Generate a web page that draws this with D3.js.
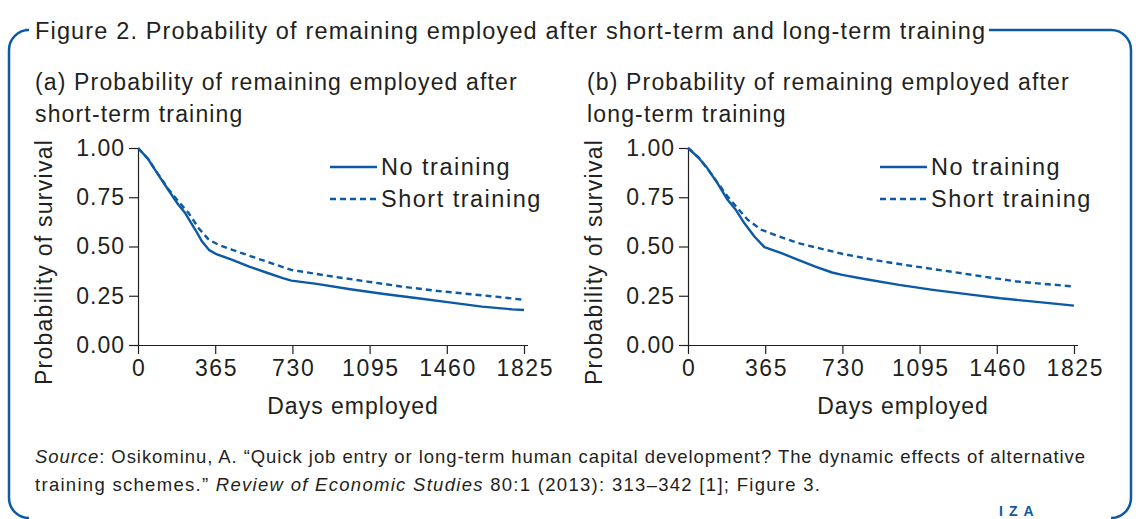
<!DOCTYPE html>
<html>
<head>
<meta charset="utf-8">
<script src="https://cdn.jsdelivr.net/npm/d3@7"></script>
<style>
  html, body { margin: 0; padding: 0; background: #ffffff; }
  svg { display: block; }
  text { font-family: "Liberation Sans", Arial, sans-serif; fill: #231f20; }
</style>
</head>
<body>
<svg id="fig" width="1138" height="519"></svg>
<script>
// Survival curves: [days employed, probability of remaining employed]
const shortNoTraining = [
  [0, 1.00], [48, 0.944], [96, 0.864], [143, 0.788], [191, 0.712], [223, 0.670],
  [271, 0.585], [303, 0.525], [335, 0.483], [367, 0.463], [446, 0.432], [526, 0.398],
  [606, 0.368], [685, 0.339], [725, 0.327], [845, 0.310], [1004, 0.283], [1164, 0.259],
  [1323, 0.237], [1482, 0.215], [1626, 0.195], [1769, 0.181], [1825, 0.178]
];
const shortTraining = [
  [0, 1.00], [48, 0.944], [96, 0.866], [143, 0.792], [191, 0.729], [239, 0.670],
  [287, 0.593], [335, 0.534], [383, 0.508], [446, 0.483], [606, 0.424], [725, 0.381],
  [924, 0.347], [1084, 0.322], [1244, 0.297], [1403, 0.276], [1562, 0.259],
  [1722, 0.242], [1825, 0.229]
];
const longNoTraining = [
  [0, 1.00], [51, 0.949], [91, 0.898], [139, 0.822], [187, 0.737], [226, 0.686],
  [266, 0.619], [314, 0.551], [361, 0.497], [442, 0.466], [521, 0.432], [602, 0.398],
  [681, 0.368], [729, 0.356], [841, 0.334], [998, 0.305], [1158, 0.280], [1318, 0.258],
  [1477, 0.237], [1637, 0.220], [1825, 0.200]
];
const longTraining = [
  [0, 1.00], [51, 0.952], [107, 0.873], [187, 0.754], [234, 0.695], [282, 0.636],
  [346, 0.585], [410, 0.559], [521, 0.517], [729, 0.463], [920, 0.424], [1079, 0.398],
  [1239, 0.373], [1398, 0.347], [1558, 0.322], [1825, 0.297]
];

const xTicks = [0, 365, 730, 1095, 1460, 1825];
const yTicks = [0, 0.25, 0.5, 0.75, 1.0];
const legendLabels = ["No training", "Short training"];

const figureTitle = "Figure 2. Probability of remaining employed after short-term and long-term training";
const panelTitles = [
  ["(a) Probability of remaining employed after", "short-term training"],
  ["(b) Probability of remaining employed after", "long-term training"]
];
const xAxisTitle = "Days employed";
const yAxisTitle = "Probability of survival";

const BLUE = "#0c5aa6";
const INK = "#231f20";

const svg = d3.select("#fig");

// Rounded frame that opens around the figure title
const frame = d3.path();
frame.moveTo(25, 30);
frame.arcTo(9, 30, 9, 50, 20);
frame.lineTo(9, 498);
frame.arcTo(9, 518, 29, 518, 20);
svg.append("path").attr("d", frame.toString())
  .attr("fill", "none").attr("stroke", BLUE).attr("stroke-width", 2.5);
const frameR = d3.path();
frameR.moveTo(989, 30);
frameR.lineTo(1112, 30);
frameR.arcTo(1131, 30, 1131, 50, 20);
frameR.lineTo(1131, 498);
frameR.arcTo(1131, 518, 1111, 518, 20);
svg.append("path").attr("d", frameR.toString())
  .attr("fill", "none").attr("stroke", BLUE).attr("stroke-width", 2.5);

svg.append("text").attr("x", 35).attr("y", 39)
  .attr("font-size", 23.5).attr("textLength", 950).attr("lengthAdjust", "spacing")
  .text(figureTitle);

const panels = [
  { left: 138, right: 524, tx: 35, series: [shortNoTraining, shortTraining] },
  { left: 688, right: 1074, tx: 587, series: [longNoTraining, longTraining] }
];
const plotTop = 148, plotBottom = 345;

panels.forEach((p, i) => {
  const g = svg.append("g");
  const x = d3.scaleLinear().domain([0, 1825]).range([p.left, p.right]);
  const y = d3.scaleLinear().domain([0, 1]).range([plotBottom, plotTop]);

  // Panel title
  panelTitles[i].forEach((line, k) => {
    g.append("text").attr("x", p.tx).attr("y", 90 + k * 32)
      .attr("font-size", 23).attr("letter-spacing", 1.15).text(line);
  });

  // Axes
  const xAxis = d3.axisBottom(x).tickValues(xTicks).tickFormat(d3.format("d"))
    .tickSize(9).tickSizeOuter(0).tickPadding(6);
  const gx = g.append("g").attr("transform", `translate(0,${plotBottom})`).call(xAxis);
  gx.select(".domain").attr("d", `M${p.left - 9},0.5H${p.right + 4}`);

  const yAxis = d3.axisLeft(y).tickValues(yTicks).tickFormat(d3.format(".2f"))
    .tickSize(9).tickSizeOuter(0).tickPadding(5);
  const gy = g.append("g").attr("transform", `translate(${p.left},0)`).call(yAxis);

  [gx, gy].forEach(ax => {
    ax.selectAll("path, line").attr("stroke", INK).attr("stroke-width", 1.2);
    ax.selectAll("text").attr("font-size", 23).attr("fill", INK)
      .style("font-family", '"Liberation Sans", Arial, sans-serif');
  });
  gx.selectAll("text").attr("letter-spacing", 1.6).attr("dx", 0.8);
  gy.selectAll("text").attr("letter-spacing", 1).attr("dx", 1);

  // Axis titles
  g.append("text").attr("x", (p.left + p.right) / 2 + 22).attr("y", 414)
    .attr("text-anchor", "middle").attr("font-size", 23).attr("letter-spacing", 1)
    .text(xAxisTitle);
  g.append("text")
    .attr("transform", `translate(${p.left - 86},262) rotate(-90)`)
    .attr("text-anchor", "middle").attr("font-size", 23).attr("letter-spacing", 1.25)
    .text(yAxisTitle);

  // Survival curves
  const line = d3.line().x(d => x(d[0])).y(d => y(d[1]));
  g.append("path").datum(p.series[0]).attr("d", line)
    .attr("fill", "none").attr("stroke", BLUE).attr("stroke-width", 2.4)
    .attr("stroke-linejoin", "round");
  g.append("path").datum(p.series[1]).attr("d", line)
    .attr("fill", "none").attr("stroke", BLUE).attr("stroke-width", 2.4)
    .attr("stroke-dasharray", "6,4");

  // Legend
  legendLabels.forEach((lab, k) => {
    const ly = 167 + k * 32;
    g.append("line").attr("x1", p.left + 192).attr("x2", p.left + 239)
      .attr("y1", ly).attr("y2", ly).attr("stroke", BLUE).attr("stroke-width", 2.4)
      .attr("stroke-dasharray", k === 1 ? "6,4" : null);
    g.append("text").attr("x", p.left + 243).attr("y", ly + 8)
      .attr("font-size", 23.5).attr("letter-spacing", 1.5).text(lab);
  });
});

// Source note
const src = svg.append("text").attr("x", 35).attr("y", 463).attr("font-size", 18.5)
  .attr("textLength", 1050).attr("lengthAdjust", "spacing");
src.append("tspan").attr("font-style", "italic").text("Source");
src.append("tspan").text(": Osikominu, A. \u201cQuick job entry or long-term human capital development? The dynamic effects of alternative");
const src2 = svg.append("text").attr("x", 35).attr("y", 491).attr("font-size", 18.5)
  .attr("textLength", 785).attr("lengthAdjust", "spacing");
src2.append("tspan").text("training schemes.\u201d ");
src2.append("tspan").attr("font-style", "italic").text("Review of Economic Studies");
src2.append("tspan").text(" 80:1 (2013): 313\u2013342 [1]; Figure 3.");

// Publisher mark
svg.append("text").attr("x", 999).attr("y", 516).attr("font-size", 14)
  .attr("font-weight", "bold").attr("letter-spacing", 6).style("fill", BLUE).text("IZA");
</script>
</body>
</html>
